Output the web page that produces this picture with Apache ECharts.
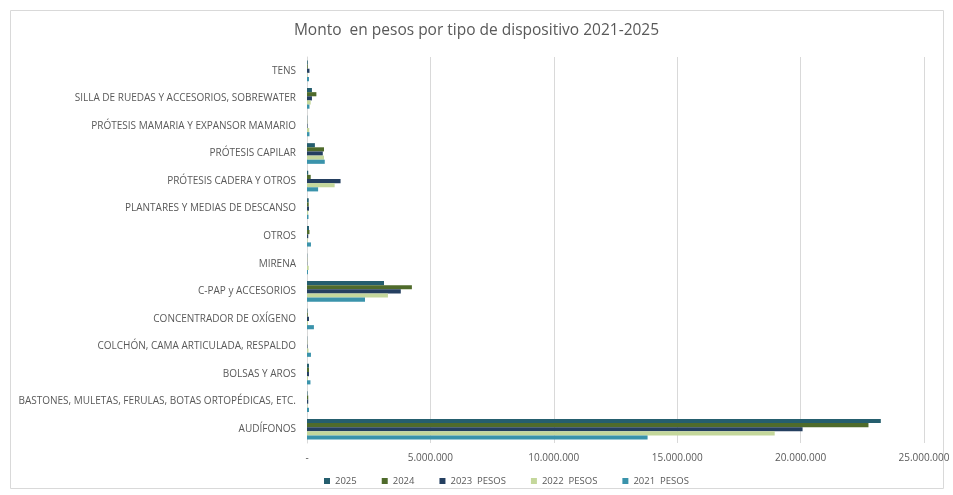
<!DOCTYPE html>
<html>
<head>
<meta charset="utf-8">
<script src="https://cdn.jsdelivr.net/npm/echarts@6/dist/echarts.min.js"></script>
<style>
  html, body { margin: 0; padding: 0; background: #fff; }
  #show_picture { width: 953px; height: 495px; }
</style>
</head>
<body>
<div id="show_picture"></div>
<script>
// categories, bottom to top
const categories = [
    'AUDÍFONOS',
    'BASTONES, MULETAS, FERULAS, BOTAS ORTOPÉDICAS, ETC.',
    'BOLSAS Y AROS',
    'COLCHÓN, CAMA ARTICULADA, RESPALDO',
    'CONCENTRADOR DE OXÍGENO',
    'C-PAP y ACCESORIOS',
    'MIRENA',
    'OTROS',
    'PLANTARES Y MEDIAS DE DESCANSO',
    'PRÓTESIS CADERA Y OTROS',
    'PRÓTESIS CAPILAR',
    'PRÓTESIS MAMARIA Y EXPANSOR MAMARIO',
    'SILLA DE RUEDAS Y ACCESORIOS, SOBREWATER',
    'TENS'
];

const y2025 = [23250000, 20000, 80000, 10000, 20000, 3120000, 10000, 80000, 70000, 50000, 320000, 10000, 200000, 30000];
const y2024 = [22750000, 50000, 80000, 10000, 30000, 4250000, 10000, 100000, 70000, 150000, 690000, 10000, 380000, 30000];
const y2023 = [20080000, 50000, 80000, 20000, 80000, 3800000, 10000, 50000, 80000, 1360000, 640000, 20000, 200000, 100000];
const y2022 = [18950000, 20000, 40000, 60000, 40000, 3280000, 70000, 30000, 50000, 1120000, 690000, 90000, 150000, 20000];
const y2021 = [13800000, 80000, 140000, 160000, 280000, 2350000, 40000, 160000, 60000, 450000, 720000, 100000, 100000, 80000];

const seriesNames = ['2025', '2024', '2023  PESOS', '2022  PESOS', '2021  PESOS'];
const colors = ['#255e6e', '#4f6b2b', '#243f60', '#c4d79b', '#3a93ab'];

let myChart = echarts.init(document.getElementById('show_picture'));

function fmt(v) {
    if (v === 0) return '-';
    return String(v).replace(/\B(?=(\d{3})+(?!\d))/g, '.');
}

const data = [y2025, y2024, y2023, y2022, y2021];
let series = [];
for (let i = 0; i < 5; i++) {
    series.push({
        name: seriesNames[i],
        type: 'bar',
        data: data[i],
        itemStyle: { color: colors[i] },
        barGap: '0%',
        barCategoryGap: '25%'
    });
}

let option = {
    animation: false,
    textStyle: { fontFamily: 'Open Sans' },
    graphic: [{
        type: 'rect',
        shape: { x: 10.5, y: 10.5, width: 933, height: 478 },
        style: { fill: 'none', stroke: '#d9d9d9', lineWidth: 1 },
        silent: true
    }],
    title: {
        text: 'Monto  en pesos por tipo de dispositivo 2021-2025',
        left: 'center',
        top: 18,
        textStyle: { color: '#595959', fontSize: 15.5, fontWeight: 'normal', fontFamily: 'Open Sans' }
    },
    legend: {
        data: seriesNames,
        bottom: 4,
        left: 319,
        itemWidth: 6,
        itemHeight: 6,
        itemGap: 25,
        icon: 'rect',
        textStyle: { color: '#595959', fontSize: 9.5 }
    },
    grid: {
        left: 307,
        right: 29,
        top: 57,
        bottom: 52
    },
    xAxis: {
        type: 'value',
        min: 0,
        max: 25000000,
        interval: 5000000,
        axisLine: { show: false },
        axisTick: { show: false },
        splitLine: { lineStyle: { color: '#d9d9d9' } },
        axisLabel: { color: '#595959', fontSize: 10, margin: 10, formatter: fmt }
    },
    yAxis: {
        type: 'category',
        data: categories,
        axisLine: { lineStyle: { color: '#d9d9d9' } },
        axisTick: { show: false },
        axisLabel: { color: '#595959', fontSize: 10, margin: 11 }
    },
    series: series
};

option && myChart.setOption(option);
</script>
</body>
</html>
